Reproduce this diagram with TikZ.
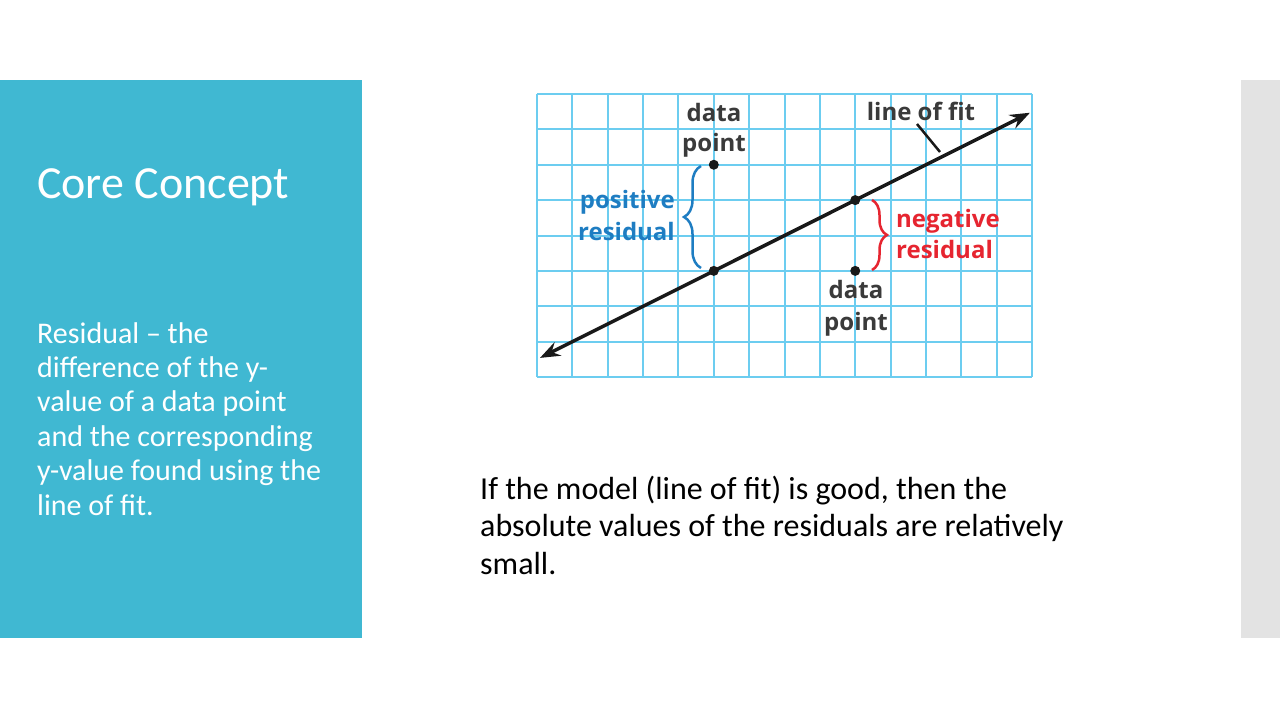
\documentclass[tikz,border=0pt]{standalone}
\usepackage{fontspec}
\setmainfont{Carlito}
\newfontfamily\labfont{Open Sans}
\usetikzlibrary{arrows.meta,decorations.pathreplacing}
\definecolor{panelblue}{HTML}{40B8D2}
\definecolor{sidegray}{HTML}{E3E3E3}
\definecolor{gridblue}{HTML}{6CCDF0}
\definecolor{posblue}{HTML}{1E7DC2}
\definecolor{negred}{HTML}{E62530}
\definecolor{labgray}{HTML}{3A3A3A}
\begin{document}
\begin{tikzpicture}[x=1pt,y=-1pt,
  titletext/.style={anchor=base west, inner sep=0, text=white, font=\fontsize{46}{50}\selectfont},
  bodytext/.style={anchor=base west, inner sep=0, text=white, font=\fontsize{30}{34}\selectfont},
  maintext/.style={anchor=base west, inner sep=0, text=black, font=\fontsize{32}{37}\selectfont},
  gridl/.style={draw=gridblue, line width=2pt},
  fitline/.style={draw=black!90, line width=3.5pt, {Stealth[length=20pt,width=15pt,inset=7pt]}-{Stealth[length=20pt,width=15pt,inset=7pt]}},
  dot/.style={circle, fill=black!90, inner sep=0, minimum size=10pt},
  lab/.style={inner sep=0, text=labgray, font=\labfont\bfseries\fontsize{24}{28}\selectfont},
  poslab/.style={lab, text=posblue},
  neglab/.style={lab, text=negred},
  posbrace/.style={draw=posblue, line width=2.5pt, decorate, decoration={brace, amplitude=17pt}},
  negbrace/.style={draw=negred, line width=2.5pt, decorate, decoration={brace, amplitude=15pt}},
  pointer/.style={draw=black!90, line width=2.5pt}
]
\useasboundingbox (0,0) rectangle (1280,720);
\fill[white] (0,0) rectangle (1280,720);
\fill[panelblue] (0,80) rectangle (362,638);
\fill[sidegray] (1241,80) rectangle (1280,638);

% left panel text
\node[titletext] (title) at (37,198) {Core Concept};
\node[bodytext] (b1) at (37,343) {Residual -- the};
\node[bodytext] (b2) at (37,377.4) {difference of the y-};
\node[bodytext] (b3) at (37,411.8) {value of a data point};
\node[bodytext] (b4) at (37,446.2) {and the corresponding};
\node[bodytext] (b5) at (37,480.6) {y-value found using the};
\node[bodytext] (b6) at (37,515) {line of fit.};

% bottom text
\node[maintext] (m1) at (480,499) {If the model (line of fit) is good, then the};
\node[maintext] (m2) at (480,536.5) {absolute values of the residuals are relatively};
\node[maintext] (m3) at (480,574) {small.};

% graph
\begin{scope}[shift={(537,94)}, x=35.36pt, y=-35.375pt]
  \foreach \i in {0,...,14} \draw[gridl] (\i,0) -- (\i,8);
  \foreach \j in {0,...,8} \draw[gridl] (0,\j) -- (14,\j);
  \coordinate (p1) at (5,2);
  \coordinate (f1) at (5,5);
  \coordinate (f2) at (9,3);
  \coordinate (p2) at (9,5);
  \coordinate (lo) at (0.085,7.46);
  \coordinate (hi) at (13.94,0.53);
\end{scope}

\draw[fitline] (lo) -- (hi);
\node[dot] (dp1) at (p1) {};
\node[dot] (df1) at (f1) {};
\node[dot] (df2) at (f2) {};
\node[dot] (dp2) at (p2) {};

% braces
\coordinate (bb1) at (701,268);
\coordinate (bb2) at (701,166);
\draw[posbrace] (bb1) -- (bb2);
\coordinate (rb1) at (872,200);
\coordinate (rb2) at (872,270);
\draw[negbrace] (rb1) -- (rb2);

% labels
\node[lab, anchor=base] (t1a) at (714,121) {data};
\node[lab, anchor=base] (t1b) at (714,151) {point};
\node[lab, anchor=base] (lof) at (921,120) {line of fit};
\node[poslab, anchor=base east] (pr1) at (675,208) {positive};
\node[poslab, anchor=base east] (pr2) at (675,240) {residual};
\node[neglab, anchor=base west] (nr1) at (896,227) {negative};
\node[neglab, anchor=base west] (nr2) at (896,258) {residual};
\node[lab, anchor=base] (t2a) at (856,298) {data};
\node[lab, anchor=base] (t2b) at (856,330) {point};

\coordinate (ptA) at (917,124);
\coordinate (ptB) at (940,152);
\draw[pointer] (ptA) -- (ptB);
\end{tikzpicture}
\end{document}
